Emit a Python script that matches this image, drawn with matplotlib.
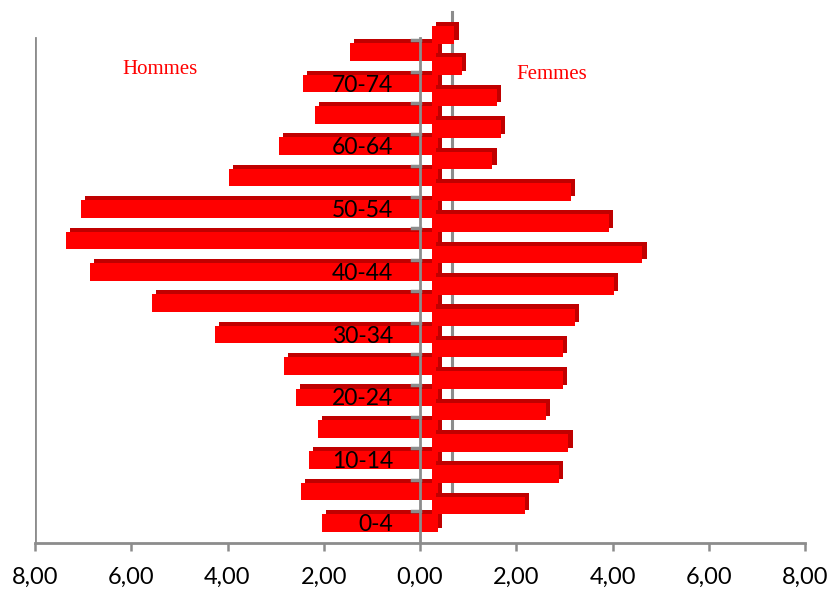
import matplotlib.pyplot as plt
import numpy as np

ages = ['0-4', '5-9', '10-14', '15-19', '20-24', '25-29', '30-34', '35-39',
        '40-44', '45-49', '50-54', '55-59', '60-64', '65-69', '70-74', '75+']
hommes = [2.04, 2.47, 2.31, 2.12, 2.58, 2.83, 4.26, 5.57,
          6.86, 7.36, 7.05, 3.97, 2.93, 2.18, 2.43, 1.46]
femmes = [2.18, 2.89, 3.08, 2.62, 2.97, 2.97, 3.22, 4.03,
          4.62, 3.93, 3.14, 1.50, 1.68, 1.60, 0.87, 0.71]
xticks = [-8, -6, -4, -2, 0, 2, 4, 6, 8]

FACE = '#ff0000'
SHADE = '#c00000'
GRID = '#8c8c8c'
SANS = ['Lato', 'DejaVu Sans']

fig = plt.figure(figsize=(8.31, 5.96), dpi=100)
ax = fig.add_axes([35 / 831, 53 / 596, 770 / 831, 538 / 596])

y = np.arange(len(ages))
h = 0.56
men_left = 0.37
wom_left = 0.25
dx, dy = 0.09, 0.13

# back wall line (depth axis)
ax.plot([0.67, 0.67], [0.54, 16.27], color=GRID, lw=2.2, zorder=0)

# men bars: shade then face
m = np.array(hommes)
ax.barh(y + dy, -(m + men_left), left=men_left + dx, height=h,
        color=SHADE, zorder=2)
ax.barh(y, -(m + men_left), left=men_left, height=h, color=FACE, zorder=3)

# women bars, one half-step higher
w = np.array(femmes)
yw = y + 0.55
ax.barh(yw + dy, w - wom_left, left=wom_left + dx, height=h,
        color=SHADE, zorder=4)
ax.barh(yw, w - wom_left, left=wom_left, height=h, color=FACE, zorder=5)

# front axes lines
top = 15.45
ax.plot([-8, -8], [-0.64, top], color=GRID, lw=2, zorder=1)
ax.plot([0, 0], [-0.64, top], color=GRID, lw=2, zorder=6)
for yy in y + 0.38:
    ax.plot([-0.17, 0], [yy, yy], color=GRID, lw=2.5, zorder=6)

# age labels (every other one)
for i in range(0, len(ages), 2):
    ax.text(-0.56, y[i] - 0.05, ages[i], ha='right', va='center',
            fontsize=16.5, family=SANS, color='black', zorder=7)

ax.text(-5.4, 14.46, 'Hommes', color='red', fontsize=15,
        family='Liberation Serif', ha='center', va='center')
ax.text(2.74, 14.27, 'Femmes', color='red', fontsize=15,
        family='Liberation Serif', ha='center', va='center')

ax.set_xlim(-8, 8)
ax.set_ylim(-0.64, 16.5)
ax.set_xticks(xticks)
ax.set_xticklabels(['{:.2f}'.format(abs(v)).replace('.', ',') for v in xticks],
                   fontsize=17, family=SANS)
ax.set_yticks([])
for s in ['top', 'right', 'left']:
    ax.spines[s].set_visible(False)
ax.spines['bottom'].set_color(GRID)
ax.spines['bottom'].set_linewidth(2)
ax.tick_params(axis='x', length=6, width=1.8, color=GRID, pad=11)

fig.savefig('out.png', dpi=100, facecolor='white')
